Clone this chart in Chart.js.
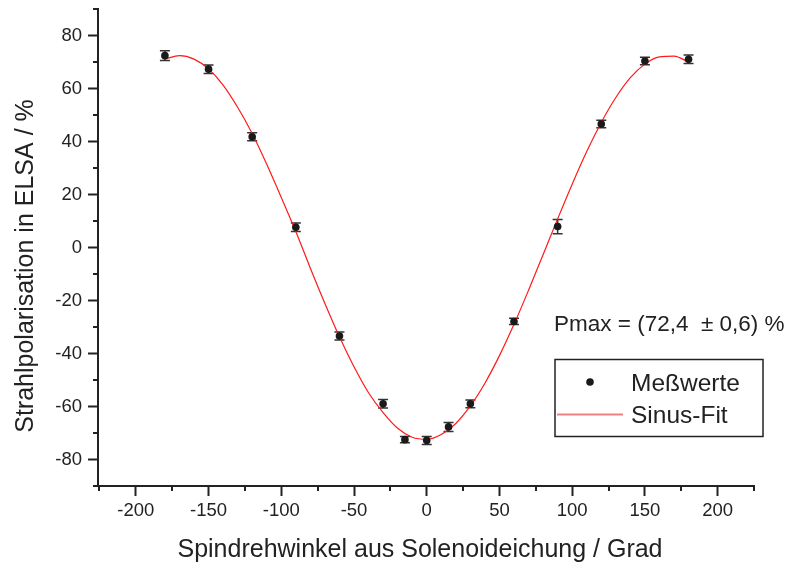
<!DOCTYPE html>
<html>
<head>
<meta charset="utf-8">
<script src="https://cdn.jsdelivr.net/npm/chart.js@4.4.0/dist/chart.umd.min.js"></script>
<style>
  body { margin: 0; background: #fff; }
  #wrap { width: 788px; height: 565px; }
</style>
</head>
<body>
<div id="wrap"><canvas id="chart" width="788" height="565"></canvas></div>
<script>
// measured points (angle in degrees, polarisation in %)
var angles = [-180, -150, -120, -90, -60, -30, -15, 0, 15, 30, 60, 90, 120, 150, 180];
var polarisation = [72.4, 67.3, 41.8, 7.6, -33.4, -59.0, -72.5, -72.8, -67.7, -59.0, -27.9, 7.9, 46.6, 70.4, 71.0];
var polErrors = [1.8, 1.6, 1.5, 1.6, 1.5, 1.6, 1.2, 1.5, 1.7, 1.5, 1.2, 2.7, 1.4, 1.4, 1.6];

// fit curve, every 10 degrees
var fitAngles = [-180, -170, -160, -150, -140, -130, -120, -110, -100, -90, -80, -70, -60, -50, -40, -30, -20, -10,
                 0, 10, 20, 30, 40, 50, 60, 70, 80, 90, 100, 110, 120, 130, 140, 150, 160, 170, 180];
var fitValues = [71.1, 72.4, 71.1, 67.4, 61.3, 52.9, 43.0, 31.4, 18.9, 6.0, -7.8, -21.1, -33.7, -45.0, -54.8, -62.3, -68.2, -71.6,
                 -72.4, -70.6, -66.4, -59.8, -51.2, -40.8, -29.0, -16.1, -2.7, 10.8, 23.9, 36.2, 47.2, 56.6, 64.1, 69.2, 71.9, 72.2, 70.0];

var xTicks = [-200, -150, -100, -50, 0, 50, 100, 150, 200];
var xMinor = [-225, -175, -125, -75, -25, 25, 75, 125, 175, 225];
var yTicks = [-80, -60, -40, -20, 0, 20, 40, 60, 80];
var yMinor = [-90, -70, -50, -30, -10, 10, 30, 50, 70, 90];

var xTitle = "Spindrehwinkel aus Solenoideichung / Grad";
var yTitle = "Strahlpolarisation in ELSA / %";
var fitLabel = "Pmax = (72,4  \u00b1 0,6) %";
var ink = "#222";
var family = "'Liberation Sans', Arial, sans-serif";

var toPoints = function(xs, ys) {
  var out = [];
  for (var i = 0; i < xs.length; i++) {
    out.push({x: xs[i], y: ys[i]});
  }
  return out;
};

var extras = {
  id: "extras",
  beforeDatasetsDraw: function(chart) {
    var ctx = chart.ctx;
    var xs = chart.scales.x, ys = chart.scales.y;
    ctx.save();
    ctx.strokeStyle = "#333";
    ctx.lineWidth = 1.5;
    for (var i = 0; i < angles.length; i++) {
      var px = xs.getPixelForValue(angles[i]);
      var top = ys.getPixelForValue(polarisation[i] + polErrors[i]);
      var bot = ys.getPixelForValue(polarisation[i] - polErrors[i]);
      ctx.beginPath();
      ctx.moveTo(px, top); ctx.lineTo(px, bot);
      ctx.moveTo(px - 5, top); ctx.lineTo(px + 5, top);
      ctx.moveTo(px - 5, bot); ctx.lineTo(px + 5, bot);
      ctx.stroke();
    }
    ctx.restore();
  },
  afterDraw: function(chart) {
    var ctx = chart.ctx;
    var area = chart.chartArea;
    var xs = chart.scales.x, ys = chart.scales.y;
    ctx.save();
    // minor ticks
    ctx.strokeStyle = ink;
    ctx.lineWidth = 2;
    ctx.beginPath();
    xMinor.forEach(function(v) {
      var p = Math.round(xs.getPixelForValue(v));
      ctx.moveTo(p, area.bottom); ctx.lineTo(p, area.bottom + 5);
    });
    yMinor.forEach(function(v) {
      var p = Math.round(ys.getPixelForValue(v));
      ctx.moveTo(area.left, p); ctx.lineTo(area.left - 5, p);
    });
    ctx.stroke();

    // axis titles
    ctx.fillStyle = ink;
    ctx.textBaseline = "alphabetic";
    ctx.textAlign = "center";
    ctx.font = "25px " + family;
    ctx.fillText(xTitle, 420, 557);
    ctx.save();
    ctx.translate(33, 266);
    ctx.rotate(-Math.PI / 2);
    ctx.fillText(yTitle, 0, 0);
    ctx.restore();

    // annotation
    ctx.textAlign = "left";
    ctx.font = "22.5px " + family;
    ctx.fillText(fitLabel, 554, 331);

    // legend
    var ds = chart.data.datasets;
    ctx.lineWidth = 1.5;
    ctx.strokeStyle = ink;
    ctx.strokeRect(555, 359.5, 208, 77);
    ctx.beginPath();
    ctx.arc(590, 382, 3.8, 0, Math.PI * 2);
    ctx.fillStyle = "#1a1a1a";
    ctx.fill();
    ctx.strokeStyle = "#f08080";
    ctx.lineWidth = 2;
    ctx.beginPath();
    ctx.moveTo(557, 414.5); ctx.lineTo(623, 414.5);
    ctx.stroke();
    ctx.fillStyle = ink;
    ctx.font = "24.5px " + family;
    ctx.fillText(ds[0].label, 631, 391);
    ctx.fillText(ds[1].label, 631, 423);
    ctx.restore();
  }
};

var tickFont = {family: family, size: 18.5};

new Chart(document.getElementById("chart"), {
  type: "scatter",
  data: {
    datasets: [{
      label: "Me\u00dfwerte",
      data: toPoints(angles, polarisation),
      pointRadius: 3.8,
      pointHoverRadius: 3.8,
      backgroundColor: "#1a1a1a",
      borderWidth: 0,
      order: 1
    }, {
      label: "Sinus-Fit",
      type: "line",
      data: toPoints(fitAngles, fitValues),
      showLine: true,
      pointRadius: 0,
      borderColor: "#ff1a1a",
      borderWidth: 1.2,
      cubicInterpolationMode: "monotone",
      fill: false,
      order: 2
    }]
  },
  options: {
    responsive: false,
    animation: false,
    devicePixelRatio: 1,
    layout: {padding: {top: 9, right: 34, left: 0, bottom: 0}},
    plugins: {legend: {display: false}, tooltip: {enabled: false}},
    scales: {
      x: {
        type: "linear",
        position: "bottom",
        min: -226,
        max: 225,
        border: {color: ink, width: 2},
        grid: {drawOnChartArea: false, tickLength: 10, tickWidth: 2, tickColor: ink},
        ticks: {font: tickFont, color: ink, padding: 4, maxRotation: 0, autoSkip: false},
        afterBuildTicks: function(s) { s.ticks = xTicks.map(function(v) { return {value: v}; }); },
        afterFit: function(s) { s.height = 79; s.paddingLeft = 0; s.paddingRight = 0; }
      },
      y: {
        type: "linear",
        min: -90,
        max: 90,
        border: {color: ink, width: 2},
        grid: {drawOnChartArea: false, tickLength: 10, tickWidth: 2, tickColor: ink},
        ticks: {font: tickFont, color: ink, padding: 6, autoSkip: false},
        afterBuildTicks: function(s) { s.ticks = yTicks.map(function(v) { return {value: v}; }); },
        afterFit: function(s) { s.width = 98; s.paddingTop = 0; s.paddingBottom = 0; }
      }
    }
  },
  plugins: [extras]
});
</script>
</body>
</html>
